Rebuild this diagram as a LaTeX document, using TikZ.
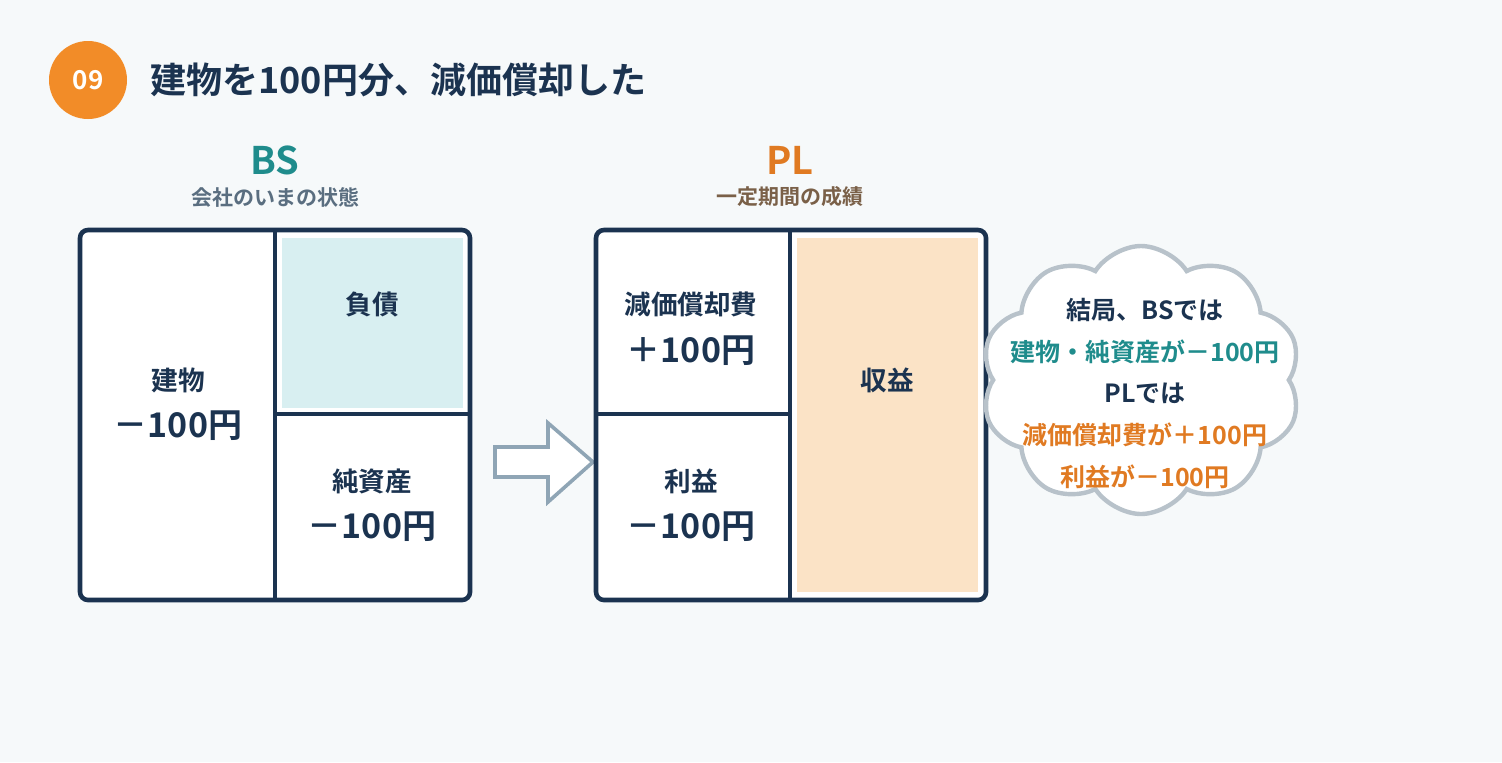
\documentclass[tikz,border=0pt]{standalone}
\usepackage{fontspec}
\setmainfont{Noto Sans CJK JP}[BoldFont={Noto Sans CJK JP Bold}]
\usetikzlibrary{shapes.symbols}
\definecolor{navy}{HTML}{1B3350}
\definecolor{bgc}{HTML}{F6F9FA}
\definecolor{numorange}{HTML}{F28C28}
\definecolor{tealc}{HTML}{1F8C8C}
\definecolor{orangec}{HTML}{E07A22}
\definecolor{bssub}{HTML}{5A6E80}
\definecolor{plsub}{HTML}{7A6048}
\definecolor{liafill}{HTML}{D8EFF1}
\definecolor{revfill}{HTML}{FBE3C6}
\definecolor{arrowc}{HTML}{8FA5B5}
\definecolor{cloudc}{HTML}{B8C2CA}
\tikzset{
  boxline/.style={draw=navy, line width=2.3pt},
  divline/.style={draw=navy, line width=2pt},
  lbl/.style={text=navy, font=\fontsize{13.3}{15}\selectfont\bfseries, inner sep=0pt},
  amt/.style={text=navy, font=\fontsize{17}{19}\selectfont\bfseries, inner sep=0pt},
  head/.style={font=\fontsize{19}{21}\selectfont\bfseries, inner sep=0pt},
  sub/.style={font=\fontsize{10.5}{12}\selectfont\bfseries, inner sep=0pt},
  cl/.style={font=\fontsize{12.5}{14}\selectfont\bfseries, inner sep=0pt},
}
\begin{document}
\begin{tikzpicture}[x=0.5pt,y=-0.5pt]
\fill[bgc] (0,0) rectangle (1502,762);
\useasboundingbox (0,0) rectangle (1502,762);
% header
\node[circle, fill=numorange, minimum size=39pt, inner sep=0pt, text=white, font=\fontsize{13}{14}\selectfont\bfseries] (num) at (88,80) {09};
\node[anchor=west, text=navy, font=\fontsize{18}{20}\selectfont\bfseries, inner sep=0pt] (title) at (150,80) {建物を100円分、減価償却した};
% BS
\node[head, text=tealc] (bs) at (275,160) {BS};
\node[sub, text=bssub] (bssub) at (275,197) {会社のいまの状態};
\fill[white, rounded corners=4pt] (80,230) rectangle (470,600);
\fill[liafill] (282,238) rectangle (463,408);
\draw[divline] (275,230) -- (275,600);
\draw[divline] (275,414) -- (470,414);
\draw[boxline, rounded corners=4pt] (80,230) rectangle (470,600);
\node[lbl] (tatemono) at (178,380) {建物};
\node[amt] (tatemonoamt) at (178,426) {－100円};
\node[lbl] (fusai) at (372,304) {負債};
\node[lbl] (junshisan) at (372,481) {純資産};
\node[amt] (junshisanamt) at (372,527) {－100円};
% arrow
\draw[draw=arrowc, line width=1.8pt, fill=white, line join=miter] (495,447) -- (548,447) -- (548,423) -- (593,462) -- (548,502) -- (548,477) -- (495,477) -- cycle;
% PL
\node[head, text=orangec] (pl) at (790,160) {PL};
\node[sub, text=plsub] (plsub) at (790,197) {一定期間の成績};
\fill[white, rounded corners=4pt] (596,230) rectangle (986,600);
\fill[revfill] (797,238) rectangle (978,592);
\draw[divline] (790,230) -- (790,600);
\draw[divline] (596,414) -- (790,414);
\draw[boxline, rounded corners=4pt] (596,230) rectangle (986,600);
\node[lbl] (genka) at (691,304) {減価償却費};
\node[amt] (genkaamt) at (691,351) {＋100円};
\node[lbl] (rieki) at (691,481) {利益};
\node[amt] (riekiamt) at (691,527) {－100円};
\node[lbl] (shueki) at (887,380) {収益};
% cloud
\node[cloud, cloud puffs=10, cloud puff arc=115, aspect=1.2, draw=cloudc, line width=2.2pt, fill=white, minimum width=160pt, minimum height=134pt, inner sep=0pt] (cloud) at (1141,380) {};
\node[cl, text=navy] (c1) at (1145,310) {結局、BSでは};
\node[cl, text=tealc] (c2) at (1145,352) {建物・純資産が－100円};
\node[cl, text=navy] (c3) at (1145,393) {PLでは};
\node[cl, text=orangec] (c4) at (1145,435) {減価償却費が＋100円};
\node[cl, text=orangec] (c5) at (1145,477) {利益が－100円};
\end{tikzpicture}
\end{document}
